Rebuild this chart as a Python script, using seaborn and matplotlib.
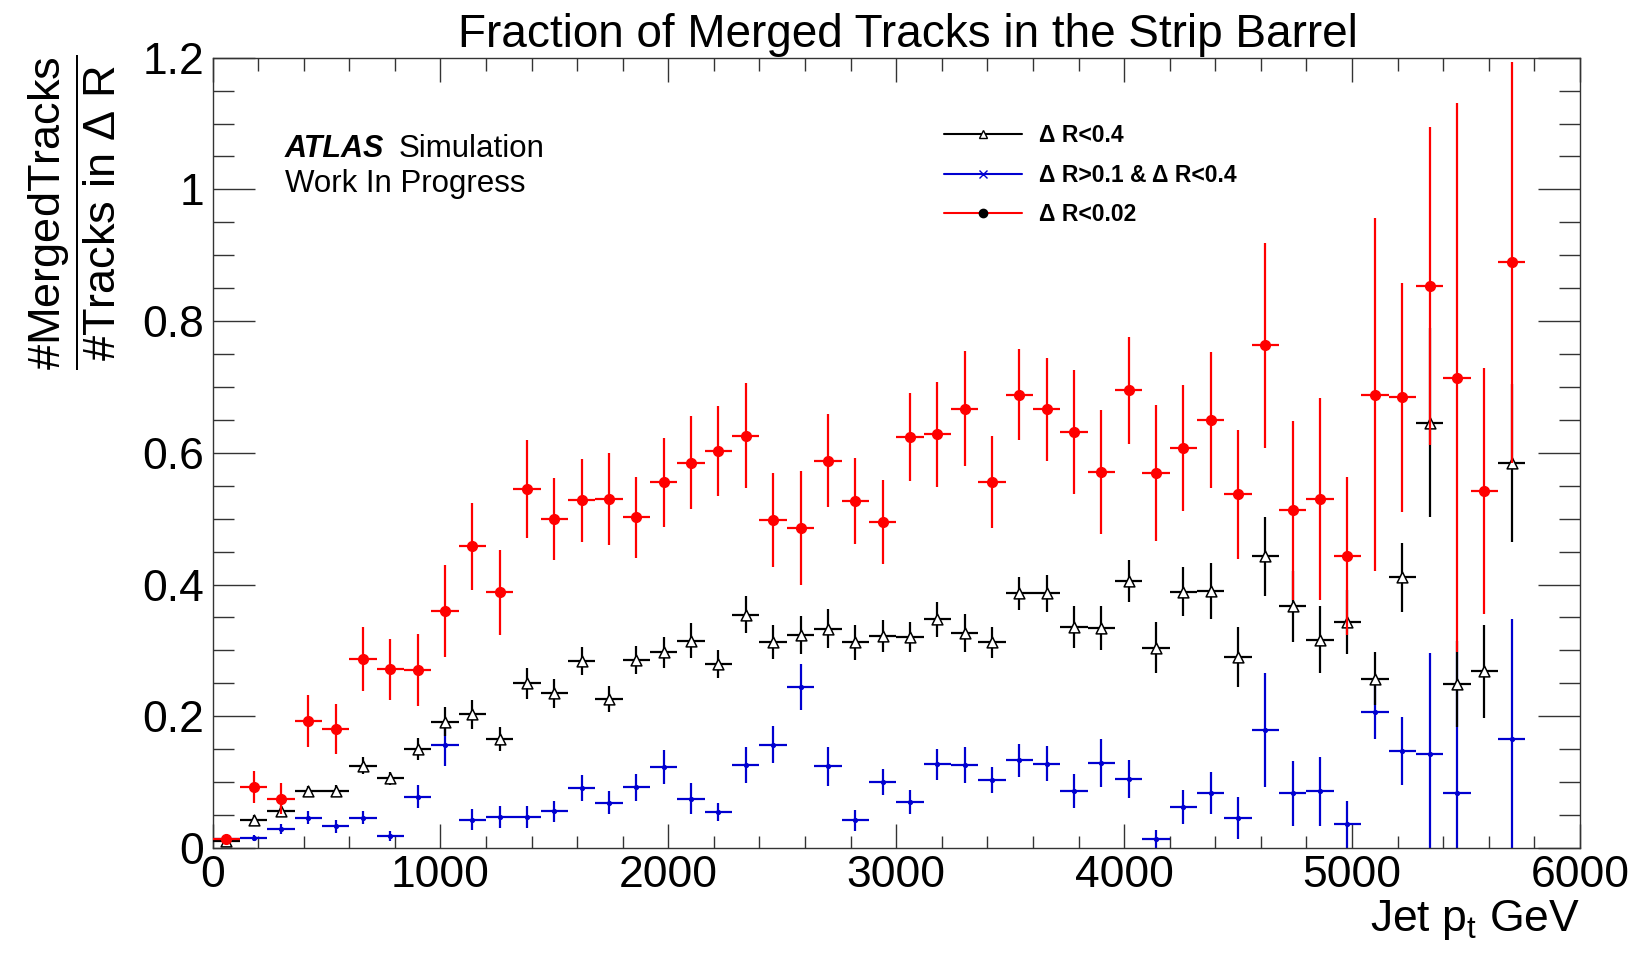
import numpy as np
import pandas as pd
import matplotlib
matplotlib.use('Agg')
import matplotlib.pyplot as plt
import seaborn as sns
from matplotlib.lines import Line2D
from matplotlib.ticker import MultipleLocator

# bins of jet pt (120 GeV wide, 0-5760)
bin_width = 120
n_bins = 48
pt_centers = np.arange(n_bins) * bin_width + bin_width / 2

# Delta R < 0.02
frac_dr002 = [0.014, 0.093, 0.075, 0.193, 0.18, 0.287, 0.271, 0.27, 0.36, 0.458,
              0.388, 0.545, 0.5, 0.528, 0.53, 0.502, 0.555, 0.585, 0.603, 0.626,
              0.498, 0.486, 0.588, 0.527, 0.495, 0.624, 0.628, 0.667, 0.556, 0.688,
              0.666, 0.632, 0.571, 0.695, 0.569, 0.607, 0.65, 0.537, 0.763, 0.513,
              0.53, 0.443, 0.688, 0.684, 0.853, 0.714, 0.542, 0.889]
err_dr002 = [0.004, 0.024, 0.023, 0.04, 0.038, 0.048, 0.047, 0.055, 0.07, 0.066,
             0.064, 0.075, 0.062, 0.063, 0.07, 0.062, 0.068, 0.071, 0.068, 0.08,
             0.071, 0.086, 0.071, 0.065, 0.064, 0.067, 0.08, 0.087, 0.07, 0.069,
             0.078, 0.094, 0.094, 0.081, 0.103, 0.096, 0.103, 0.098, 0.155, 0.136,
             0.153, 0.12, 0.268, 0.174, 0.241, 0.417, 0.187, 0.305]

# Delta R < 0.4
frac_dr04 = [0.011, 0.043, 0.056, 0.086, 0.086, 0.125, 0.106, 0.15, 0.192, 0.203,
             0.165, 0.25, 0.235, 0.284, 0.226, 0.285, 0.297, 0.315, 0.279, 0.354,
             0.313, 0.323, 0.333, 0.312, 0.322, 0.32, 0.347, 0.326, 0.312, 0.387,
             0.387, 0.335, 0.334, 0.405, 0.304, 0.389, 0.39, 0.29, 0.443, 0.367,
             0.316, 0.343, 0.257, 0.411, 0.646, 0.249, 0.268, 0.585]
err_dr04 = [0.004, 0.007, 0.008, 0.008, 0.009, 0.013, 0.01, 0.017, 0.022, 0.022,
            0.018, 0.024, 0.022, 0.021, 0.02, 0.021, 0.024, 0.027, 0.021, 0.028,
            0.026, 0.029, 0.03, 0.026, 0.024, 0.023, 0.027, 0.029, 0.023, 0.025,
            0.028, 0.032, 0.033, 0.032, 0.039, 0.037, 0.042, 0.046, 0.06, 0.054,
            0.051, 0.048, 0.04, 0.052, 0.144, 0.065, 0.07, 0.12]

# 0.1 < Delta R < 0.4
frac_ring = [0.013, 0.015, 0.029, 0.046, 0.033, 0.046, 0.018, 0.078, 0.157, 0.043,
             0.047, 0.047, 0.056, 0.091, 0.069, 0.092, 0.123, 0.075, 0.055, 0.126,
             0.157, 0.244, 0.124, 0.042, 0.1, 0.07, 0.127, 0.126, 0.103, 0.133,
             0.128, 0.087, 0.129, 0.105, 0.013, 0.062, 0.084, 0.046, 0.179, 0.083,
             0.086, 0.036, 0.207, 0.147, 0.143, 0.083, np.nan, 0.166]
err_ring = [0.003, 0.005, 0.008, 0.01, 0.01, 0.01, 0.008, 0.018, 0.032, 0.016,
            0.016, 0.016, 0.016, 0.02, 0.018, 0.02, 0.026, 0.023, 0.014, 0.028,
            0.028, 0.035, 0.03, 0.016, 0.02, 0.018, 0.024, 0.027, 0.02, 0.025,
            0.027, 0.026, 0.036, 0.029, 0.015, 0.026, 0.032, 0.032, 0.086, 0.049,
            0.052, 0.036, 0.041, 0.052, 0.153, 0.214, np.nan, 0.181]

labels = ['Δ R<0.4', 'Δ R>0.1 & Δ R<0.4', 'Δ R<0.02']

sns.set_theme(style='ticks')
plt.rcParams['font.family'] = ['Liberation Sans', 'DejaVu Sans']
plt.rcParams['mathtext.fontset'] = 'custom'
plt.rcParams['mathtext.rm'] = 'Liberation Sans'
plt.rcParams['mathtext.it'] = 'Liberation Sans:italic'
plt.rcParams['mathtext.bf'] = 'Liberation Sans:bold'
plt.rcParams['text.color'] = 'black'
plt.rcParams['xtick.labelcolor'] = 'black'
plt.rcParams['ytick.labelcolor'] = 'black'

fig = plt.figure(figsize=(16.41, 9.56), dpi=100)
ax = fig.add_axes([0.1295, 0.113, 0.8333, 0.8267])

red = '#ff0000'
blue = '#0000d0'

# draw order: ring (blue), DR<0.4 (black), DR<0.02 (red)
series = [
    (frac_ring, err_ring, blue, 'o', blue, blue, 7),
    (frac_dr04, err_dr04, 'black', '^', 'white', 'black', 60),
    (frac_dr002, err_dr002, red, 'o', red, red, 48),
]
z = 2
for vals, errs, col, mk, fc, ec, size in series:
    df = pd.DataFrame({'pt': pt_centers, 'frac': vals, 'err': errs})
    ax.errorbar(df['pt'], df['frac'], xerr=bin_width / 2, yerr=df['err'],
                fmt='none', ecolor=col, elinewidth=1.6, capsize=0, zorder=z)
    sns.scatterplot(data=df, x='pt', y='frac', ax=ax, marker=mk, s=size,
                    color=fc, edgecolor=ec, linewidth=1.1, zorder=z + 1,
                    legend=False)
    z += 2

ax.set_xlim(0, 6000)
ax.set_ylim(0, 1.2)
ax.xaxis.set_major_locator(MultipleLocator(1000))
ax.xaxis.set_minor_locator(MultipleLocator(200))
ax.yaxis.set_major_locator(MultipleLocator(0.2))
ax.yaxis.set_minor_locator(MultipleLocator(0.05))
ax.yaxis.set_major_formatter(matplotlib.ticker.FuncFormatter(lambda v, p: '%g' % round(v, 2)))
ax.tick_params(which='both', direction='in', top=True, right=True,
               labelsize=32, color='#333333', width=1.0)
ax.tick_params(axis='y', which='major', length=30, pad=6)
ax.tick_params(axis='y', which='minor', length=15)
ax.tick_params(axis='x', which='major', length=17, pad=5)
ax.tick_params(axis='x', which='minor', length=9)
for sp in ax.spines.values():
    sp.set_color('#333333')
    sp.set_linewidth(1.0)
ax.set_xlabel('')
ax.set_ylabel('')

fig.text(0.553, 0.951, 'Fraction of Merged Tracks in the Strip Barrel',
         ha='center', va='baseline', fontsize=33)
fig.text(0.9628, 0.026, r'Jet $\mathregular{p_t}$ GeV', ha='right',
         va='baseline', fontsize=32)
fig.text(0.044, 0.778,
         r'$\dfrac{\#\mathrm{MergedTracks}}{\#\mathrm{Tracks\ in\ \Delta\ R}}$',
         rotation=90, ha='center', va='center', fontsize=32.5)

ax.text(0.053, 0.874, 'ATLAS', transform=ax.transAxes, fontsize=22,
        weight='bold', style='italic', va='baseline')
ax.text(0.136, 0.874, 'Simulation', transform=ax.transAxes, fontsize=22.5,
        va='baseline')
ax.text(0.053, 0.83, 'Work In Progress', transform=ax.transAxes, fontsize=22.5,
        va='baseline')

handles = [
    Line2D([], [], color='black', lw=1.5, marker='^', mfc='white', mec='black', ms=6),
    Line2D([], [], color=blue, lw=1.5, marker='x', mec=blue, ms=6),
    Line2D([], [], color=red, lw=1.5, marker='o', mfc='black', mec='black', ms=6),
]
leg = ax.legend(handles, labels, loc='upper left', bbox_to_anchor=(0.52, 0.942),
                frameon=False, handlelength=3.4, handletextpad=0.75,
                labelspacing=0.72, prop={'weight': 'bold', 'size': 16.5})

fig.savefig('out.png', dpi=100)
